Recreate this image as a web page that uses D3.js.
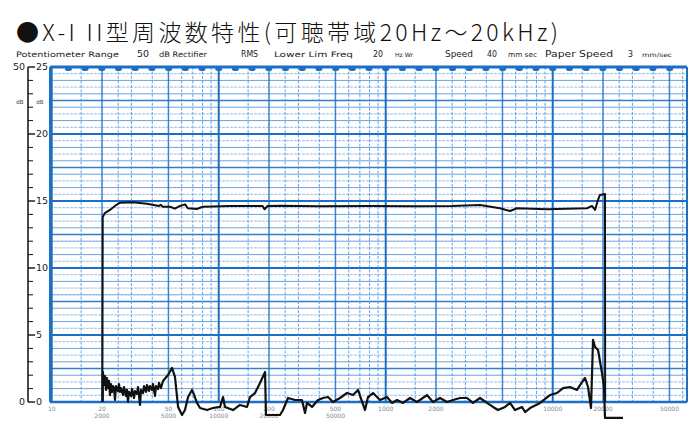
<!DOCTYPE html>
<html><head><meta charset="utf-8">
<script src="https://cdn.jsdelivr.net/npm/d3@7"></script>
<style>body{margin:0;background:#fff}svg{display:block}</style>
</head><body><svg id="c" width="699" height="427"></svg>
<script>
// ---------- data ----------
const titleText = "X-I II型周波数特性(可聴帯域20Hz～20kHz)";
const subtitleParts = ["Potentiometer Range","50","dB Rectifier","RMS","Lower Lim Freq","20","Hz Wr","Speed","40","mm sec","Paper Speed","3","mm/sec"];

// frequency response (Hz, dB)
const respFreq = [20.1,20.2,20.8,22.3,23.9,25.6,30.6,37.2,43.8,44.9,46.2,51.1,54.6,58.6,62.9,65.3,73.8,80.3,116.5,183,188,196,232,400,800,1500,2500,3668,4832,5550,6112,9240,16040,17180,17920,18660,19180,20560,20600];
const respDb   = [0,13.8,14.1,14.33,14.63,14.87,14.9,14.8,14.63,14.72,14.57,14.57,14.43,14.63,14.75,14.46,14.4,14.57,14.63,14.63,14.38,14.63,14.65,14.6,14.62,14.6,14.62,14.7,14.46,14.25,14.46,14.38,14.46,14.63,14.33,15.07,15.45,15.52,0];

// distortion trace (Hz, dB)
const distFreq = [20.2,20.25,20.56,20.85,21.13,21.42,21.72,22.02,22.33,22.64,22.95,23.27,23.59,23.92,24.25,24.93,25.28,25.62,25.98,26.71,27.08,27.84,28.23,28.62,29.02,29.83,30.25,31.09,31.53,32.41,32.86,33.78,34.25,35.21,35.7,36.7,37.21,38.23,38.77,39.85,40.4,41.54,42.11,43.29,43.89,45.12,46.37,
  49.7,52.5,54.7,57.1,60.3,62.8,65.5,69.2,70.1,74.1,77.3,85.1,92.4,101.8,106.1,109.0,121.7,134.1,147.7,153.9,164.9,176.7,189.4,191.8,232.8,242.6,259.9,286.3,315.2,328.6,337.8,361.9,393.1,421.4,451.4,483.6,532.3,586.4,637.0,682.4,751.6,783.3,839.3,924.4,1018,1091,1169,1269,1398,1539,1766,1918,2113,2328,2529,2785,3067,3331,3669,4041,4390,4703,5180,5550,5946,6549,6825,7313,8392,9630,10608,11526,12693,13981,14979,15610,16270,16955,17430,17920,18680,19725,20280,20560,26360];
const distDb = [0,2.24,1.27,1.94,0.9,1.79,1.04,1.57,0.52,1.34,0.75,1.19,1.04,0.15,1.19,0.82,1.34,0.75,1.04,0.52,1.12,0.45,0.9,0.0,0.75,0.45,0.97,0.3,0.82,0.6,1.12,-0.22,0.9,0.67,1.19,0.75,1.27,0.82,1.19,0.9,1.34,0.45,1.19,0.97,1.42,1.04,1.57,
  2.01,2.54,1.87,-0.37,-0.97,-0.6,0.37,0.9,0.75,-0.07,-0.45,-0.6,-0.45,-0.37,0.37,-0.37,-0.6,-0.22,-0.37,0.37,0.67,1.42,2.24,-0.97,-0.97,-0.6,0.3,0.15,0.15,-0.82,-0.07,-0.37,0.15,0.3,0.37,0,0.3,0.67,0.52,0.9,-0.6,0.37,0.67,0.15,0.37,-0.07,0.15,-0.07,0.3,0,0.52,0,0.3,0,0.15,0.3,0.3,-0.07,0.3,-0.07,-0.37,-0.6,-0.37,-0.07,-0.6,-0.37,-0.75,-0.45,-0.07,0.52,0.67,1.04,1.12,0.9,1.49,1.79,1.12,-0.45,4.63,4.1,3.88,2.16,1.12,-1.19,-1.19];

const dbTickValues = d3.range(0, 26, 1);
const dbLabelValues = [0,5,10,15,20,25];
const dbLabelsLeft = {0:"0",25:"50"};
const freqLabelValues = [10,20,50,100,200,500,1000,2000,10000,20000,50000];
const freqLabelTop = ["10","20","50","100","200","500","1000","2000","10000","20000","50000"];
const freqLabelBottom = ["","2000","5000","10000","20000","50000","","","","",""];
const gridDecades = [10,100,1000,10000];
const gridMults = [1,1.5,2,2.5,3,4,5,6,7,8,9];

// ---------- layout ----------
const svg = d3.select("#c");
const x = d3.scaleLog().domain([20, 20000]).range([102, 603]);
const y = d3.scaleLinear().domain([0, 25]).range([402, 67]);
const plotL = 50, plotR = 687, plotT = y(25), plotB = y(0);
const blue = "#1d6fc6", blueLight = "#4f94dc";

// title
const t = svg.append("text").attr("x", 16).attr("y", 41)
  .attr("font-family", "'Noto Sans CJK JP', sans-serif").attr("font-size", 23).attr("font-weight", 300).attr("fill", "#111")
  .attr("textLength", 542).attr("lengthAdjust", "spacing");
t.append("tspan").text("●");
t.append("tspan").text(titleText);

// subtitle
const subX = [16,137,159,241,274,373,395,445,487,508,545,628,642];
const subW = [103,12,48,17,79,10,18,28,10,29,68,5,30];
const subSize = [7.5,8.5,7.5,8,7.5,8.5,6,8,8.5,7,8,8.5,6];
subtitleParts.forEach((s,i) => {
  svg.append("text").attr("x", subX[i]).attr("y", 57).text(s)
    .attr("font-family", "'DejaVu Sans', sans-serif").attr("font-size", subSize[i]).attr("fill", "#222")
    .attr("textLength", subW[i]).attr("lengthAdjust", "spacingAndGlyphs");
});

// horizontal grid
const hg = svg.append("g");
d3.range(0, 25.01, 0.5).forEach(v => {
  const major = v % 5 === 0, mid = v % 2.5 === 0, one = v % 1 === 0;
  hg.append("line").attr("x1", plotL).attr("x2", plotR).attr("y1", y(v)).attr("y2", y(v))
    .attr("stroke", major || mid ? blue : blueLight)
    .attr("stroke-width", major ? 2 : mid ? 1.5 : one ? 1 : 0.8)
    .attr("stroke-dasharray", major || mid || one ? null : "3,1")
    .attr("opacity", major ? 1 : mid ? 0.9 : one ? 0.85 : 0.75);
});

// vertical grid
const vg = svg.append("g");
const vfreqs = [];
gridDecades.forEach(d => gridMults.forEach(m => { const f = d*m; if (x(f) <= plotR - 2 && x(f) >= plotL) vfreqs.push([f, m]); }));
vfreqs.forEach(([f, m]) => {
  const dec = m === 1, med = (m === 2 || m === 5);
  vg.append("line").attr("x1", x(f)).attr("x2", x(f)).attr("y1", plotT).attr("y2", plotB)
    .attr("stroke", dec || med ? blue : blueLight)
    .attr("stroke-width", dec ? 2 : med ? 1.5 : 1)
    .attr("stroke-dasharray", dec || med ? null : "3,1.5")
    .attr("opacity", dec ? 1 : 0.85);
});

// frame
svg.append("line").attr("x1", plotL).attr("x2", plotR).attr("y1", plotT).attr("y2", plotT).attr("stroke", blue).attr("stroke-width", 3);
svg.append("line").attr("x1", plotL).attr("x2", plotR).attr("y1", plotB).attr("y2", plotB).attr("stroke", blue).attr("stroke-width", 2.5);
svg.append("line").attr("x1", plotL).attr("x2", plotL).attr("y1", plotT).attr("y2", plotB).attr("stroke", blue).attr("stroke-width", 2);
svg.append("line").attr("x1", plotR).attr("x2", plotR).attr("y1", plotT).attr("y2", plotB).attr("stroke", blue).attr("stroke-width", 2);

// top bumps at 1/3-octave marks
const bumpFreqs = d3.range(11, 48).map(k => Math.pow(10, k/10));
bumpFreqs.forEach(f => {
  if (x(f) > plotL + 4 && x(f) < plotR - 4)
    svg.append("ellipse").attr("cx", x(f)).attr("cy", plotT + 2).attr("rx", 3.5).attr("ry", 2).attr("fill", blue);
});

// left dB axis
const ax = 28;
svg.append("line").attr("x1", ax).attr("x2", ax).attr("y1", plotT).attr("y2", plotB).attr("stroke", "#111").attr("stroke-width", 1.5);
dbTickValues.forEach(v => {
  const big = dbLabelValues.includes(v);
  svg.append("line").attr("x1", ax).attr("x2", ax + (big ? 7 : 5)).attr("y1", y(v)).attr("y2", y(v))
    .attr("stroke", "#111").attr("stroke-width", big ? 1.4 : 1);
});
dbLabelValues.forEach(v => {
  svg.append("text").attr("x", 36).attr("y", y(v)).attr("dy", "0.35em").text(v)
    .attr("font-family", "'DejaVu Sans', sans-serif").attr("font-size", 9.5).attr("fill", "#222");
  if (dbLabelsLeft[v] !== undefined)
    svg.append("text").attr("x", 25).attr("y", y(v)).attr("dy", "0.35em").attr("text-anchor", "end").text(dbLabelsLeft[v])
      .attr("font-family", "'DejaVu Sans', sans-serif").attr("font-size", 9.5).attr("fill", "#222");
});
[20, 40].forEach(px => svg.append("text").attr("x", px).attr("y", y(22.4)).attr("text-anchor", "middle").attr("dy", "0.35em")
  .text("dB").attr("font-family", "'DejaVu Sans', sans-serif").attr("font-size", 5.5).attr("fill", "#444"));

// bottom frequency labels
freqLabelValues.forEach((f, i) => {
  svg.append("text").attr("x", x(f)).attr("y", 411).attr("text-anchor", "middle").text(freqLabelTop[i])
    .attr("font-family", "'DejaVu Sans', sans-serif").attr("font-size", 6).attr("fill", "#7d8a96");
  if (freqLabelBottom[i])
    svg.append("text").attr("x", x(f)).attr("y", 418).attr("text-anchor", "middle").text(freqLabelBottom[i])
      .attr("font-family", "'DejaVu Sans', sans-serif").attr("font-size", 6).attr("fill", "#7d8a96");
});

// curves
const line = d3.line().x(d => x(d[0])).y(d => y(d[1]));
svg.append("path").datum(respFreq.map((f,i) => [f, respDb[i]])).attr("d", line)
  .attr("fill", "none").attr("stroke", "#111").attr("stroke-width", 2).attr("stroke-linejoin", "round");
svg.append("path").datum(distFreq.map((f,i) => [f, distDb[i]])).attr("d", line)
  .attr("fill", "none").attr("stroke", "#111").attr("stroke-width", 2.2).attr("stroke-linejoin", "round");
</script></body></html>
